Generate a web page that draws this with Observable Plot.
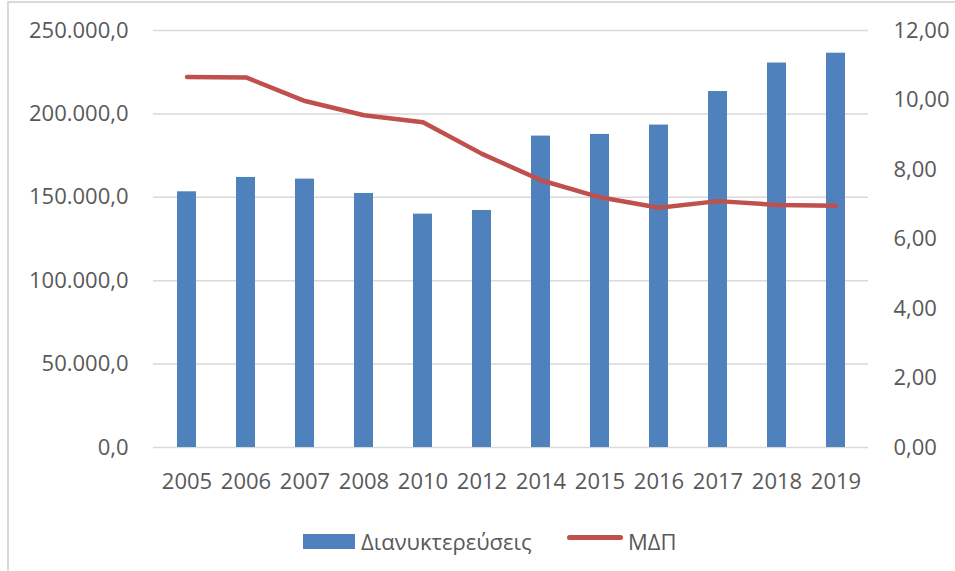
<!DOCTYPE html>
<html>
<head>
<meta charset="utf-8">
<script src="https://cdn.jsdelivr.net/npm/d3@7"></script>
<script src="https://cdn.jsdelivr.net/npm/@observablehq/plot@0.6"></script>
<style>
  html, body { margin: 0; padding: 0; background: #fff; }
  #wrap { position: relative; width: 955px; height: 571px; overflow: hidden; font-family: "Open Sans", "Noto Sans", sans-serif; }
  #frame { position: absolute; left: 7px; top: 1px; width: 960px; height: 600px; border-left: 2px solid #d9d9d9; border-top: 2px solid #d9d9d9; box-sizing: border-box; }
  #chart { position: absolute; left: 0; top: 0; }
  #legend { position: absolute; left: 0; top: 517px; width: 955px; height: 40px; font-size: 22px; color: #595959; }
  .item { position: absolute; top: 0; display: flex; align-items: center; height: 40px; }
</style>
</head>
<body>
<div id="wrap">
  <div id="frame"></div>
  <div id="chart"></div>
  <div id="legend">
    <div class="item" style="left:303px"><span style="display:inline-block;width:52px;height:15px;background:#4f81bd;margin-right:6px;margin-top:8px"></span><span style="margin-top:8px">Διανυκτερεύσεις</span></div>
    <div class="item" style="left:567px"><span style="display:inline-block;width:56px;height:5px;border-radius:3px;background:#c0504d;margin-right:5px"></span><span style="margin-top:8px">ΜΔΠ</span></div>
  </div>
</div>
<script>
const years = ["2005","2006","2007","2008","2010","2012","2014","2015","2016","2017","2018","2019"];
const overnights = [153300, 161900, 160900, 152300, 139900, 142100, 186700, 187700, 193300, 213400, 230500, 236400];
const mdp = [10.66, 10.65, 9.97, 9.56, 9.36, 8.45, 7.69, 7.20, 6.90, 7.09, 6.98, 6.96];
const leftTicks = [0, 50000, 100000, 150000, 200000, 250000];
const rightTicks = [0, 2, 4, 6, 8, 10, 12];
const leftMax = 250000, rightMax = 12;
const k = leftMax / rightMax;

const barData = years.map((y, i) => ({year: y, value: overnights[i]}));
const lineData = years.map((y, i) => ({year: y, value: mdp[i] * k}));

const fmtLeft = d => d3.format(",.1f")(d).replace(/,/g, "#").replace(".", ",").replace(/#/g, ".");
const fmtRight = d => d3.format(".2f")(d).replace(".", ",");

const chart = Plot.plot({
  width: 955,
  height: 510,
  marginTop: 30,
  marginLeft: 153,
  marginRight: 87,
  marginBottom: 63,
  style: {fontFamily: "'Open Sans', 'Noto Sans', sans-serif", fontSize: "22px", color: "#595959", background: "transparent"},
  x: {domain: years, paddingInner: 0.68, paddingOuter: 0.34, align: 0.5, label: null},
  y: {domain: [0, leftMax], label: null},
  marks: [
    Plot.gridY(leftTicks, {stroke: "#d9d9d9", strokeOpacity: 1, strokeWidth: 1.5}),
    Plot.barY(barData, {x: "year", y: "value", fill: "#4f81bd"}),
    Plot.line(lineData, {x: "year", y: "value", stroke: "#c0504d", strokeWidth: 4.5, strokeLinecap: "round", strokeLinejoin: "round"}),
    Plot.axisX({tickSize: 0, tickPadding: 26, label: null, fill: "#595959", fontSize: 22}),
    Plot.axisY({anchor: "left", ticks: leftTicks, tickFormat: fmtLeft, tickSize: 0, tickPadding: 25, label: null, fill: "#595959", fontSize: 22}),
    Plot.axisY({anchor: "right", ticks: rightTicks.map(t => t * k), tickFormat: d => fmtRight(d / k), tickSize: 0, tickPadding: 25, label: null, fill: "#595959", fontSize: 22, textAnchor: "start"})
  ]
});
document.getElementById("chart").appendChild(chart);
</script>
</body>
</html>
